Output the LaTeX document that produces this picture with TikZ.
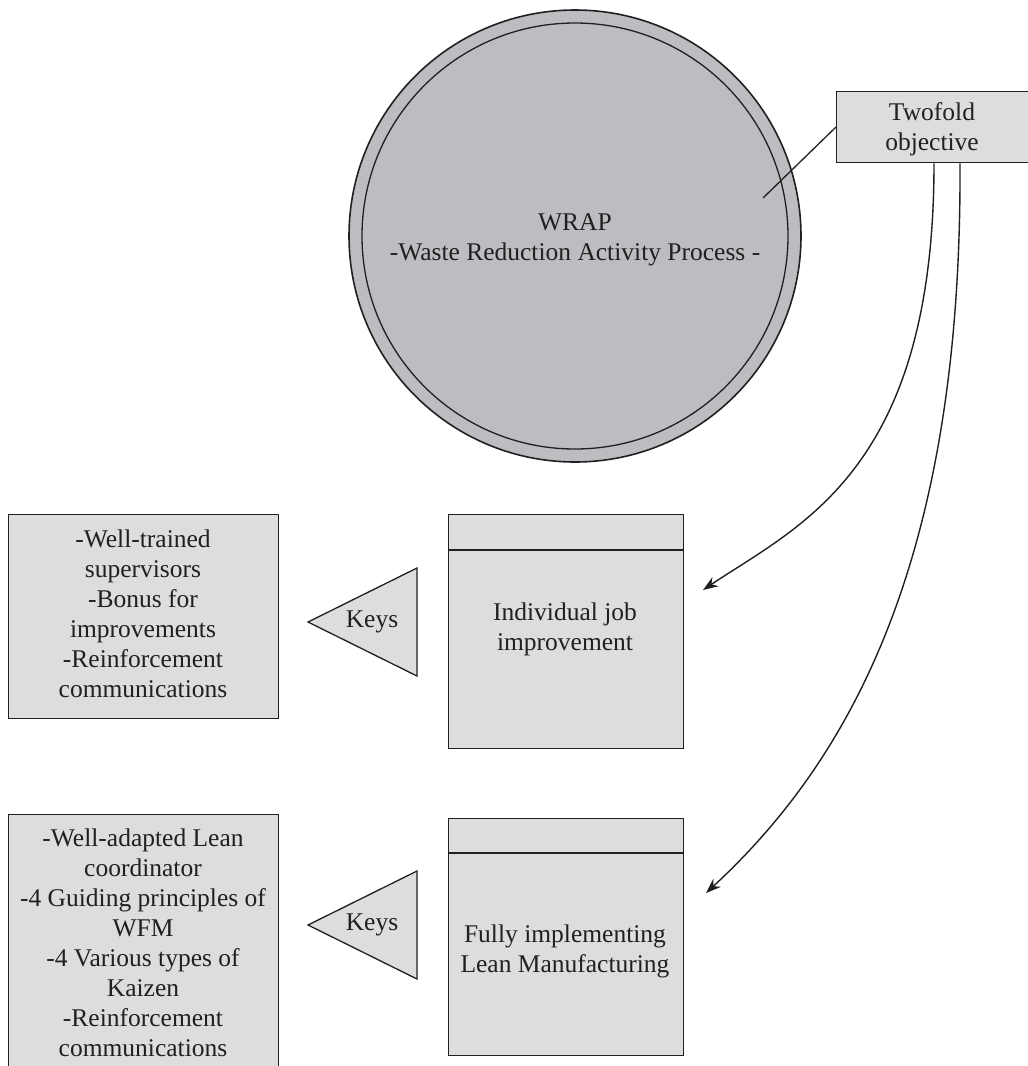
\documentclass[tikz,border=0pt]{standalone}
\usepackage{fontspec}
\setmainfont{Liberation Serif}
\usetikzlibrary{arrows.meta}
\definecolor{ink}{HTML}{231F20}
\definecolor{discgray}{HTML}{BCBDC0}
\definecolor{boxgray}{HTML}{DCDDDF}

\begin{document}
\begin{tikzpicture}[x=1pt,y=-1pt,
  every node/.style={font=\fontsize{25.5}{30}\selectfont, text=ink},
  panel/.style={draw=ink, fill=boxgray, line width=1.3pt, inner sep=0pt, anchor=north west},
  caption/.style={align=center, inner sep=0pt},
  keystri/.style={draw=ink, fill=boxgray, line width=1.3pt, line join=miter},
  link/.style={draw=ink, line width=1.3pt},
  feed/.style={draw=ink, line width=1.4pt, -{Stealth[length=15pt,width=11pt]}}]

\useasboundingbox (0,0) rectangle (1028,1066);
\clip (0,0) rectangle (1028,1066);

% WRAP disc with its inner ring
\node[circle, draw=ink, fill=discgray, line width=1.6pt, minimum size=452pt, inner sep=0pt] (wrap) at (575,236) {};
\node[circle, draw=ink, line width=1.3pt, minimum size=426pt, inner sep=0pt] (wrapin) at (575,236) {};
\node[caption] (wraptext) at (575,240) {WRAP\\-Waste Reduction Activity Process -};

% objective box and its leader into the disc
\node[panel, minimum width=200pt, minimum height=71pt] (goal) at (836,91) {};
\node[caption] (goaltext) at (932,129) {Twofold\\objective};
\coordinate (goaltip) at (763,198);
\draw[link] ([yshift=-36pt]goal.north west) -- (goaltip);

% the two objectives
\node[panel, minimum width=235pt, minimum height=234pt] (job1) at (448,514) {};
\draw[link] ([yshift=-36pt]job1.north west) -- ([yshift=-36pt]job1.north east);
\node[caption] (job1text) at (565,629) {Individual job\\improvement};

\node[panel, minimum width=235pt, minimum height=237pt] (job2) at (448,818) {};
\draw[link] ([yshift=-35pt]job2.north west) -- ([yshift=-35pt]job2.north east);
\node[caption] (job2text) at (565,951) {Fully implementing\\Lean Manufacturing};

% curved arrows from the objective box
\coordinate (job1in) at (703,590);
\coordinate (job2in) at (706,893);
\draw[feed] ([xshift=98pt]goal.south west) .. controls (934,470) and (800,525) .. (job1in);
\draw[feed] ([xshift=124pt]goal.south west) .. controls (962,560) and (850,760) .. (job2in);

% key triangles
\coordinate (k1tip) at (308,622);
\draw[keystri] (k1tip) -- (417,568) -- (417,676) -- cycle;
\node (keys1) at (372,622) {Keys};
\coordinate (k2tip) at (308,925);
\draw[keystri] (k2tip) -- (417,871) -- (417,979) -- cycle;
\node (keys2) at (372,925) {Keys};

% key lists
\node[panel, minimum width=270pt, minimum height=204pt] (list1) at (8,514) {};
\node[caption] (list1text) at (143,614) {-Well-trained\\supervisors\\-Bonus for\\improvements\\-Reinforcement\\communications};

\node[panel, minimum width=270pt, minimum height=280pt] (list2) at (8,814) {};
\node[caption] (list2text) at (143,943) {-Well-adapted Lean\\coordinator\\-4 Guiding principles of\\WFM\\-4 Various types of\\Kaizen\\-Reinforcement\\communications};
\end{tikzpicture}
\end{document}
